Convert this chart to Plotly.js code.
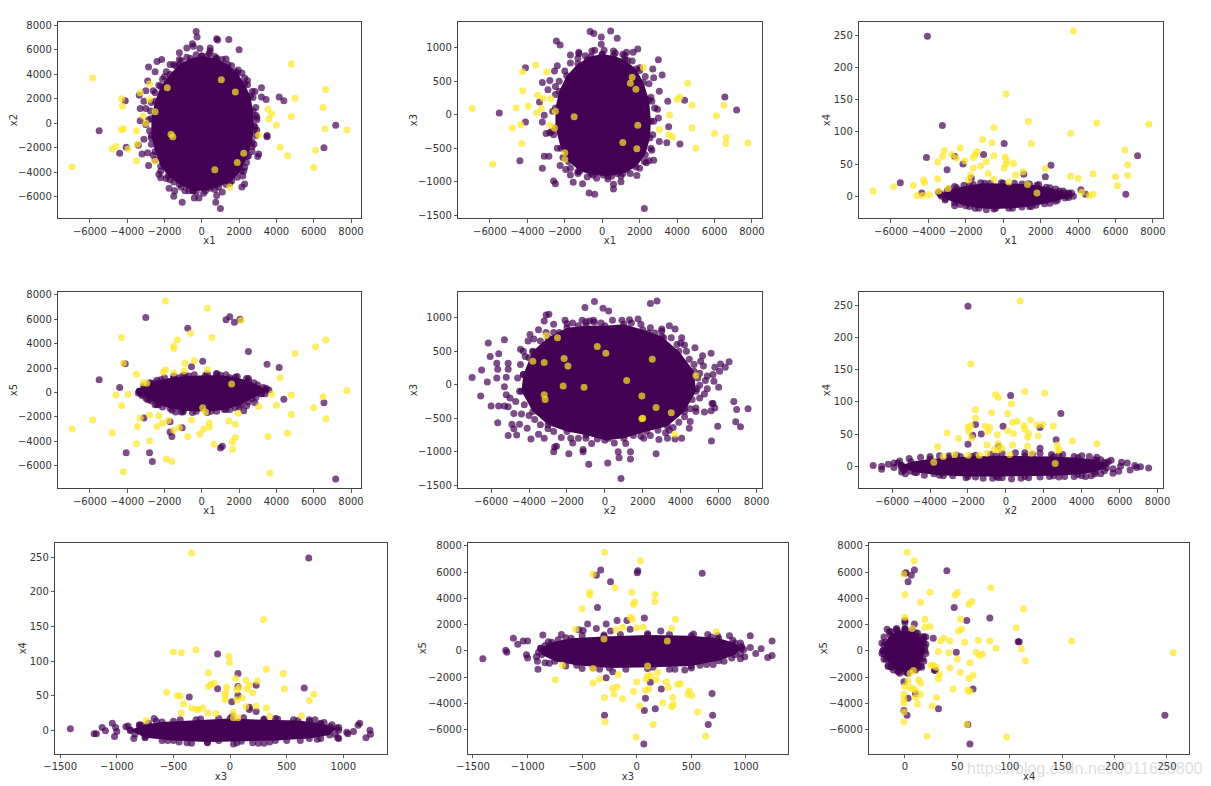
<!DOCTYPE html>
<html><head><meta charset="utf-8">
<script src="https://cdn.plot.ly/plotly-3.0.1.min.js"></script>
<style>html,body{margin:0;padding:0;background:#fff}
.g-xtitle,.g-x2title,.g-x3title,.g-x4title,.g-x5title,.g-x6title,.g-x7title,.g-x8title,.g-x9title{transform:translateY(-2px)}
.g-ytitle,.g-y2title,.g-y4title,.g-y5title{transform:translateX(5px)}
.g-y3title,.g-y6title,.g-y7title{transform:translateX(2px)}
.g-y8title,.g-y9title{transform:translateX(4px)}
</style></head>
<body><div id="chart" style="width:1211px;height:786px"></div>
<script>
const rangeX1=[-7690,8520], rangeX2=[-7730,8270], rangeX3=[-1543,1383], rangeX4=[-34,271], rangeX5=[-7830,8230];

const p1Yellow=[[-5850,3700],[-6950,-3550],[-4300,2000],[-4250,1400],[-3300,2500],[-2800,3200],[-2800,1950],[-2500,950],[-3150,600],[-3000,0],[-4300,-500],[-4200,-450],[-3500,-600],[-4800,-2100],[-4600,-1900],[-3950,-2100],[-3450,-1700],[-3500,-3050],[-2500,-3100],[-1550,-1100],[-1650,-900],[-1850,2900],[1050,3550],[1800,2550],[4800,4850],[5000,2050],[6650,2750],[6500,1300],[4800,550],[3550,1150],[3750,750],[3600,350],[4000,-150],[3050,-950],[6600,-450],[7780,-550],[4200,-1950],[4600,-2650],[6100,-2200],[6000,-3600],[1500,-5200],[700,-3800],[1900,-3200],[2250,-2450]];
const p1Purple=[[-5500,-600],[-4100,1850],[-4050,-1950],[-4400,-2450],[-3400,-1800],[-3200,-2500],[-2900,-2400],[-2850,-3450],[-2850,4600],[-2500,4200],[-2900,3450],[-2400,5050],[-2150,5200],[-2600,2650],[-3000,2650],[-3350,2300],[-3100,1800],[-3300,1200],[-3000,1200],[-3300,200],[-3000,-100],[-3100,-1300],[-2700,-1200],[-2300,-4150],[-2200,-4450],[-1700,-4600],[-1750,-5300],[-1450,-5500],[-1500,-5950],[-1050,-6450],[-900,-5500],[-450,-5500],[-400,-6100],[-150,-6100],[450,-5300],[800,-5900],[750,-6450],[1000,-6950],[1100,-5600],[2150,-5200],[2300,-4950],[2200,-4300],[2250,-3900],[2500,-2650],[3050,-2500],[3000,-2700],[2800,-1700],[3500,-1000],[3500,-1100],[2800,-550],[2950,-550],[2950,500],[2900,650],[3450,1950],[3200,2150],[2850,2600],[3200,2900],[2450,3150],[2150,4100],[1800,4200],[2000,6000],[1450,6850],[800,6900],[850,6800],[-300,7500],[-250,7050],[-500,6500],[-450,6300],[-1200,5750],[-800,6150],[-100,6100],[450,6150],[450,5900],[-1500,4800],[-1700,4800],[4150,2150],[4400,1850],[7180,-150],[6550,-2000],[1300,5250],[800,5300],[-1100,5100],[400,5700],[-2000,3800],[-1700,3500]];
const p1Core=[[0,5500],[800,5300],[1400,4800],[1900,4100],[2300,3200],[2600,2200],[2750,1000],[2800,-200],[2700,-1500],[2450,-2700],[2100,-3900],[1600,-4700],[900,-5200],[200,-5500],[-500,-5500],[-1200,-5000],[-1800,-4300],[-2200,-3500],[-2500,-2300],[-2700,-1000],[-2700,400],[-2500,1800],[-2200,3000],[-1700,4000],[-1200,4800],[-600,5300]];
const p1Rim=[[-2800,-600],[-2850,300],[-2750,1000],[-2700,1700],[-2500,2500],[-2300,3100],[-2100,3600],[-1900,4200],[-1400,4700],[-1200,5200],[-800,5400],[-300,5600],[300,5500],[700,5450],[1100,5200],[1600,4700],[1950,4350],[2300,3700],[2450,3500],[2700,2600],[2750,2100],[2900,1300],[2950,300],[2850,-300],[2900,-1000],[2700,-1900],[2700,-2300],[2400,-3200],[2300,-3600],[1900,-4400],[1500,-4900],[1300,-5000],[700,-5400],[100,-5700],[-300,-5600],[-700,-5500],[-1100,-5200],[-1500,-4800],[-1900,-4500],[-2200,-3900],[-2500,-3000],[-2600,-2600],[-2700,-1700]];

const p2Yellow=[[-6950,90],[-5850,-740],[-4800,-200],[-4600,100],[-3950,125],[-4350,-150],[-4300,-430],[-4250,640],[-3550,740],[-2950,640],[-4250,355],[-3450,290],[-3150,240],[-2750,240],[-3250,90],[-3500,30],[-2500,50],[-2800,-160],[-2550,-200],[-2000,-570],[-2000,-670],[-1500,-30],[1800,380],[1600,560],[1500,470],[2200,700],[3050,-220],[3600,-5],[4000,225],[4150,265],[4560,470],[4800,140],[6500,140],[6100,-15],[4800,-195],[3550,-300],[3750,-330],[6000,-280],[6620,-340],[6600,-430],[7780,-425],[5000,-500],[1850,-510],[1900,-160],[1100,-415]];
const p2Purple=[[-5500,25],[-4100,700],[-4100,-110],[-4400,-690],[-3200,-800],[-2600,-990],[-2500,-1030],[-3100,-620],[-2850,-620],[-3200,-110],[-3100,-10],[-3000,-280],[-2800,-270],[-2600,-300],[-3350,190],[-3200,480],[-2800,510],[-2900,370],[-2550,650],[-2400,730],[-2500,420],[-2450,1100],[-2250,1040],[-1700,890],[-1250,930],[-1250,910],[-800,820],[-550,950],[-650,1240],[-450,1210],[-50,1160],[-50,1050],[450,1250],[800,1140],[600,950],[1300,930],[1100,900],[1650,930],[1900,980],[1350,810],[2000,700],[2700,680],[3000,820],[2750,550],[3200,590],[3050,350],[2500,460],[2600,260],[3500,200],[4400,215],[2800,100],[2950,80],[6550,265],[7180,70],[3000,-50],[3550,-180],[3050,-400],[3450,-420],[4150,-440],[2650,-530],[2750,-680],[2500,-690],[2250,-700],[1850,-910],[1000,-1000],[600,-1040],[600,-1110],[-400,-1190],[-700,-1170],[-1050,-1030],[-1550,-1010],[-1700,-900],[-1950,-820],[-2250,-760],[-2000,-650],[2250,-1400],[500,-920],[50,-900],[-600,-880],[-1300,-850],[800,-880],[1300,-820]];
const p2Core=[[0,900],[600,880],[1200,820],[1800,680],[2200,480],[2500,220],[2600,-100],[2550,-350],[2300,-600],[1800,-780],[1100,-880],[300,-920],[-500,-900],[-1200,-840],[-1800,-700],[-2200,-500],[-2500,-200],[-2500,100],[-2300,350],[-1900,580],[-1300,760],[-600,870]];
const p2Rim=[[-2700,-250],[-2650,50],[-2500,300],[-2300,500],[-2000,650],[-1700,770],[-1300,840],[-900,880],[-400,960],[100,960],[700,920],[1200,880],[1600,800],[2000,660],[2300,570],[2650,200],[2750,-100],[2700,-300],[2600,-500],[2350,-720],[2000,-800],[1500,-880],[1000,-920],[300,-960],[-300,-950],[-800,-930],[-1300,-880],[-1700,-800],[-2100,-640],[-2400,-500]];

const p3Yellow=[[-6950,8],[-5850,15],[-4800,17],[-4600,1],[-4300,1],[-3950,2],[-4250,25],[-4200,21],[-3500,27],[-3500,53],[-3250,62],[-3150,71],[-2750,65],[-2500,59],[-2300,75],[-2050,55],[-1600,60],[-1500,65],[-1400,69],[-1100,88],[-600,83],[-500,107],[-500,63],[-1600,44],[-1200,47],[-900,54],[-1750,33],[-1850,25],[-800,35],[-500,26],[100,61],[150,159],[200,55],[150,50],[50,44],[550,51],[650,33],[1050,38],[1350,116],[1500,82],[2250,43],[3750,257],[3600,98],[3600,31],[4000,28],[4800,35],[5000,114],[6500,72],[6650,49],[6650,32],[6000,30],[6100,16],[7780,112],[4800,3],[4600,1],[4200,6],[1800,5],[1300,18],[300,22],[-3450,8],[-2950,12]];
const p3Purple=[[-4050,249],[-5500,21],[-3250,110],[-4100,60],[-3000,41],[-2600,62],[-2150,50],[-1700,28],[-1050,65],[50,82],[1100,34],[2250,30],[2550,48],[7180,63],[6550,3],[4150,10],[4400,3],[3200,8],[3500,5],[-4350,5],[-2600,-15],[1900,18],[1400,19],[3050,4]];
const p3Core=[[-3350,3],[-3000,8],[-2500,13],[-1800,17],[-1000,20],[0,20],[1000,19],[1800,17],[2500,13],[3000,8],[3450,3],[3300,-3],[2800,-8],[2200,-12],[1400,-16],[500,-19],[-500,-20],[-1300,-19],[-2000,-15],[-2600,-10],[-3100,-4]];
const p3Rim=[[-3450,6],[-3300,0],[-3100,-6],[-2900,11],[-2600,15],[-2300,-13],[-2100,17],[-1800,-16],[-1600,18],[-1500,-19],[-1200,21],[-900,-21],[-700,20],[-400,-19],[-100,21],[300,-19],[600,20],[1000,-17],[1300,19],[1500,-16],[1750,-14],[2300,14],[2500,-11],[2800,11],[2900,-6],[3300,5],[3500,-2],[3400,0],[3650,5],[3750,0]];

const p4Yellow=[[-1950,7500],[300,6900],[2100,5900],[-4300,4500],[-600,4850],[550,4500],[-1300,4300],[-1500,3800],[-1500,3600],[6650,4300],[6100,3750],[5000,3200],[-4200,2400],[-900,2400],[-400,2600],[-1950,1850],[-2050,1650],[-1500,1600],[-950,1750],[-3500,1500],[300,1850],[-3150,800],[-2950,750],[4200,1200],[-4600,-200],[-3950,-150],[3750,-150],[4800,-200],[6500,-350],[7780,150],[-4300,-1100],[4000,-1050],[3050,-1150],[6000,-1250],[6650,-2150],[4800,-1800],[-3300,-2100],[-5850,-2250],[-6950,-3000],[-4800,-3300],[-3450,-2800],[-2400,-2800],[-2100,-2500],[-2300,-1900],[-2800,-1850],[-1800,-2300],[-1500,-3100],[-1200,-2900],[-550,-2250],[-3500,-4200],[-2800,-3950],[-750,-3600],[-100,-3400],[100,-3000],[400,-2850],[400,-2500],[1450,-2350],[1800,-2600],[1950,-1700],[1800,-3700],[1650,-4050],[1650,-4650],[650,-4250],[3550,-3600],[4600,-3350],[3650,-6600],[-4200,-6500],[-1900,-5450],[-1600,-5650],[50,-1250],[200,-1600],[1600,700]];
const p4Purple=[[-3000,6150],[-750,5250],[1300,5950],[1500,6200],[1750,5750],[2050,6000],[2500,3350],[50,2550],[-550,2100],[-4100,2350],[3500,2300],[4150,2050],[-5500,1050],[-4400,400],[4400,-550],[6550,-850],[2850,-850],[2250,-1500],[7180,-7100],[-3100,-2100],[-1700,-2400],[-1700,-3250],[-1600,-3600],[-1050,-2900],[-4050,-4950],[-2800,-4950],[-2650,-5650],[1000,-4550],[1100,-4400],[2500,1150],[3450,350],[3000,100],[3200,-100],[-2500,800],[-3300,-50],[-3300,100],[-2900,-600],[-2500,-1000],[-1400,-1600],[-1100,-1600],[1200,-1400],[1800,-1250],[2400,-1100],[-1300,1200],[-900,1400],[800,1550],[1500,1200]];
const p4Core=[[-3350,100],[-3100,450],[-2700,750],[-2200,1050],[-1500,1250],[-700,1350],[200,1400],[1000,1400],[1800,1250],[2500,950],[3000,600],[3450,200],[3200,-100],[2700,-500],[2100,-1000],[1300,-1400],[500,-1550],[-300,-1550],[-1000,-1500],[-1700,-1300],[-2300,-1000],[-2800,-550],[-3200,-150]];
const p4Rim=[[-3400,-50],[-3200,-250],[-3000,-450],[-2700,-700],[-2400,-1000],[-2100,-1200],[-1600,-1450],[-1000,-1600],[-500,-1650],[300,-1650],[800,-1550],[1500,-1400],[2000,-1200],[2500,-800],[2900,-400],[3400,-100],[3600,200],[3300,400],[2800,800],[2400,1150],[1900,1300],[1300,1450],[800,1500],[300,1500],[-400,1450],[-1000,1400],[-1500,1350],[-2000,1200],[-2400,1000],[-2800,800],[-3100,550]];

const p5Yellow=[[-3100,735],[-2500,700],[-3800,350],[-3200,330],[-2150,390],[-1950,280],[-400,570],[50,470],[2500,380],[4800,135],[1150,60],[1950,-170],[-3200,-150],[-3150,-220],[2700,-340],[3500,-420],[2000,-500],[1950,-510],[3700,-740],[-1100,-40],[-2200,-20]];
const p5Purple=[[-7000,105],[-6500,220],[-6150,620],[-6050,420],[-6200,40],[-6550,-170],[-6000,-320],[-5650,-570],[-5600,-320],[-5700,100],[-5650,230],[-5700,320],[-5600,460],[-5300,670],[-5100,320],[-5100,230],[-5200,110],[-5300,-30],[-5200,-150],[-5000,-200],[-5300,-320],[-5100,-330],[-4900,-590],[-4800,-660],[-5100,-760],[-4650,-750],[-4800,-430],[-4400,-440],[-4500,-590],[-4100,-650],[-3900,-810],[-3500,-740],[-4450,530],[-4200,420],[-4050,650],[-3950,750],[-3800,490],[-3500,820],[-3200,950],[-3100,1040],[-2950,1050],[-2700,780],[-2000,910],[-1700,920],[-1000,940],[-800,950],[-550,930],[-1050,1150],[-550,1240],[-100,1140],[200,1100],[2400,1210],[2750,1250],[1300,970],[1750,980],[2400,850],[3000,830],[3400,880],[3700,830],[4050,700],[4000,620],[4750,550],[4200,590],[5150,430],[5600,470],[5050,350],[5800,260],[6100,310],[6050,200],[6550,340],[6350,260],[5200,280],[5000,170],[5400,130],[5700,150],[5300,60],[5750,50],[6000,-40],[5400,-60],[5000,-10],[5250,-140],[5000,-200],[5700,-280],[5650,-280],[5800,-350],[5600,-390],[5250,-410],[4800,-350],[4800,-400],[6800,-250],[6950,-370],[7550,-360],[6900,-555],[7150,-630],[5950,-620],[5620,-840],[4500,-550],[4450,-650],[4050,-800],[3700,-810],[3400,-680],[2700,-1030],[2850,-820],[1350,-1000],[1350,-1110],[750,-1090],[850,-1400],[700,-1000],[150,-1170],[-850,-1190],[-1150,-1000],[-1150,-970],[-1900,-1030],[-2700,-1000],[-2650,-930],[-2550,-920],[-1700,-870],[-700,-880],[2050,-800],[3300,-800],[4200,-350],[3000,800],[600,800],[-3200,-800]];
const p5Core=[[-4300,150],[-3800,500],[-3000,700],[-2000,850],[-1000,880],[0,880],[1000,900],[2000,820],[3000,720],[3900,500],[4700,200],[4800,-100],[4200,-400],[3300,-620],[2200,-700],[1000,-800],[0,-830],[-1000,-750],[-2000,-700],[-3000,-600],[-3800,-400],[-4400,-100]];
const p5Rim=[[-4500,-100],[-4600,100],[-4450,300],[-4300,500],[-4000,400],[-3750,680],[-3400,650],[-3100,780],[-2700,900],[-2400,780],[-2100,960],[-1400,880],[-1200,960],[-600,960],[-200,920],[400,960],[900,960],[1400,920],[1900,900],[2300,770],[2650,770],[3100,700],[3500,700],[3800,600],[4300,500],[4450,380],[4700,300],[4900,100],[4850,-60],[4600,-220],[4500,-360],[4200,-480],[3900,-560],[3600,-640],[3200,-720],[2800,-680],[2400,-760],[1900,-770],[1500,-760],[1100,-880],[500,-870],[200,-800],[-400,-810],[-1000,-800],[-1400,-800],[-1800,-800],[-2300,-790],[-2700,-700],[-3000,-660],[-3400,-600],[-3700,-520],[-4000,-460],[-4250,-300],[-4700,-250]];

const p6Yellow=[[750,257],[-1850,159],[-550,111],[-400,107],[1000,116],[2050,114],[300,97],[-1600,88],[-750,83],[100,82],[-1600,75],[350,68],[600,70],[1300,72],[-2000,61],[-1850,63],[-1100,62],[-850,60],[-950,54],[-1950,54],[100,55],[400,51],[950,63],[1000,58],[1200,51],[1650,64],[1950,65],[2500,62],[1700,47],[1150,45],[-450,49],[-3100,52],[-2500,43],[-1800,44],[-1000,33],[-3600,30],[-400,35],[350,33],[1150,31],[2700,33],[2800,25],[2750,25],[3500,39],[4800,35],[-400,25],[-600,26],[-200,28],[-1000,20],[-2000,17],[-2700,18],[-3300,15],[1350,20],[-1400,17],[200,18],[-3800,6],[2600,4]];
const p6Purple=[[-2000,249],[250,110],[2900,82],[-1600,65],[-150,62],[1800,60],[-1750,48],[-1300,50],[2650,41],[-2000,34],[-400,31],[1800,28],[-7000,1],[-6550,-5],[-6550,0],[-6200,3],[-5900,5],[-5900,-2],[-5600,8],[-5500,-2],[-5100,12],[5550,9],[5650,-4],[5650,-11],[6100,6],[6050,0],[6400,5],[6550,-6],[6800,1],[6900,-2],[7100,-1],[7530,-3],[5950,-8],[4800,8],[-2600,17],[-3000,16],[-3500,16],[-4000,15],[-4500,14],[-4800,-10],[-3800,-12],[-3300,-15],[-2100,-18],[-1200,-19],[-700,-19],[-200,-18],[800,-19],[1800,-17],[2300,-16],[3100,-16],[4000,-15],[4500,-15],[5000,-12],[1000,21],[500,21],[-200,20],[1800,20],[2400,18],[3000,18],[4000,16],[4400,15],[4800,14],[5200,6],[-5500,-9],[-5300,-12]];
const p6Core=[[-5500,1],[-5000,7],[-4000,11],[-3000,13],[-1800,15],[-500,16],[1000,16],[2500,15],[3800,13],[4700,10],[5300,4],[5300,-3],[4700,-9],[3800,-13],[2500,-15],[1000,-16],[-500,-16],[-2000,-16],[-3500,-14],[-4700,-10],[-5300,-5]];
const p6Rim=[[-5700,5],[-5400,-6],[-5000,-8],[-4300,-14],[-2800,-15],[-1600,-17],[-400,-18],[300,-20],[1200,-18],[2800,-17],[3600,-16],[4200,-16],[4700,-12],[5200,-7],[5400,7],[5000,10],[3600,15],[2800,17],[1400,18],[-800,18],[-1600,17],[-2400,15]];

const p7Yellow=[[-340,256],[295,160],[-500,113],[-430,112],[-300,116],[-10,107],[-5,98],[320,88],[470,82],[-190,83],[50,75],[140,72],[240,71],[-140,68],[-170,66],[-190,63],[-30,62],[170,65],[150,60],[60,58],[80,62],[480,60],[740,52],[700,43],[-560,55],[-465,50],[-440,49],[200,54],[-40,54],[-45,50],[-45,44],[60,44],[110,47],[-410,38],[-340,32],[-300,30],[-280,30],[-240,32],[140,34],[230,35],[320,32],[-430,25],[-195,25],[-125,24],[30,26],[630,21],[-740,14],[350,20],[30,18],[70,18]];
const p7Purple=[[-1410,2],[-1200,-5],[-1180,-5],[-1130,4],[-1100,-1],[-1040,10],[-1020,-9],[-1010,4],[-1000,-2],[-920,5],[-900,6],[-850,-12],[1240,-6],[1235,0],[1200,-11],[1145,10],[1130,7],[1090,-2],[1040,-5],[1030,-3],[960,-12],[950,-11],[960,0],[880,5],[800,9],[750,15],[695,249],[655,61],[-110,110],[70,82],[230,65],[70,63],[-110,60],[-360,48],[70,50],[15,41],[170,33],[170,30],[230,27],[20,20],[-670,17],[-700,5],[-800,7],[-750,-10],[-600,-15],[-450,-17],[-340,-19],[-100,-15],[30,-20],[200,-18],[300,-19],[500,-15],[800,-12],[300,16],[400,17],[700,13],[-500,13]];
const p7Core=[[-880,0],[-780,7],[-600,12],[-300,15],[0,17],[300,15],[600,14],[800,10],[940,3],[880,-7],[700,-12],[400,-15],[100,-16],[-200,-17],[-500,-15],[-750,-11]];
const p7Rim=[[-840,-6],[-800,8],[-720,10],[-650,13],[-550,-15],[-440,15],[-380,-18],[-200,-18],[-260,16],[-100,17],[60,-18],[120,18],[250,-19],[350,-17],[420,16],[560,15],[620,-15],[700,15],[770,-13],[830,11],[900,8],[930,-6],[960,4]];

const p8Yellow=[[-295,7500],[35,6850],[-400,5850],[-200,4800],[-45,4450],[-430,4450],[-430,4250],[170,4280],[165,3750],[-20,3700],[-30,3550],[-500,3200],[-60,2550],[-40,2400],[355,2400],[-560,1650],[-130,1800],[0,1750],[60,1800],[320,1700],[730,1450],[-190,1600],[-745,-2200],[-680,-1100],[-400,-2450],[-340,-2150],[-170,-1800],[-220,-2850],[-180,-2750],[-210,-3300],[-295,-3550],[-130,-3650],[-30,-3100],[0,-2350],[100,-1900],[85,-2150],[130,-1900],[190,-1650],[180,-2200],[270,-2350],[290,-2800],[80,-3000],[110,-2900],[375,-2550],[400,-2500],[480,-3050],[470,-3300],[505,-3400],[330,-3550],[320,-4250],[335,-4100],[240,-3950],[25,-4200],[150,-5600],[560,-4650],[630,-6500],[-5,-6550],[-290,-5400],[100,-1150],[-400,-1350],[-300,900],[280,750]];
const p8Purple=[[-1410,-600],[-1130,950],[-1090,500],[-1040,750],[-1000,750],[-1200,50],[-1190,-100],[-1010,-300],[-1000,-550],[-920,-450],[-910,-800],[-905,-1400],[-860,1200],[-840,-900],[1240,750],[1240,-350],[1200,-500],[1140,150],[1090,-200],[1040,1150],[1040,250],[990,-450],[950,-600],[850,1150],[740,1150],[650,1250],[600,5900],[10,6100],[5,5950],[-330,6150],[-370,5750],[-240,5250],[-360,3300],[-180,2300],[70,2500],[-450,2050],[-280,2050],[-90,2300],[-530,1600],[-490,1550],[-370,1700],[-240,1500],[-60,1650],[220,1500],[-280,-2050],[125,-2400],[225,-2900],[690,-3250],[80,-3600],[70,-4550],[170,-4400],[-295,-4900],[695,-4900],[655,-5600],[65,-7100],[-220,-1600],[350,-1400],[440,-1450],[-500,-1350],[-340,-1400],[-690,1250],[-810,700],[960,350],[700,-1050],[580,-1100]];
const p8Core=[[-880,200],[-780,650],[-600,950],[-300,1100],[100,1200],[500,1150],[750,950],[900,600],[960,200],[900,-300],[750,-750],[500,-1150],[150,-1250],[-250,-1300],[-550,-1100],[-750,-800],[-870,-300]];
const p8Rim=[[-900,-100],[-840,400],[-720,850],[-650,1000],[-500,1150],[-300,1200],[-150,1250],[100,1300],[300,1250],[520,1280],[680,1050],[880,800],[950,600],[980,100],[950,-200],[870,-550],[800,-800],[640,-1050],[500,-1300],[300,-1400],[100,-1350],[-100,-1400],[-400,-1300],[-650,-1150],[-800,-950]];

const p9Yellow=[[2,7500],[9,6850],[-1,5850],[0,4280],[24,4450],[15,3700],[50,4450],[48,4250],[64,3750],[61,3550],[82,4800],[113,3200],[19,2400],[53,2400],[0,2550],[19,1800],[24,1850],[54,1650],[51,1500],[106,1750],[7,1700],[37,950],[34,750],[43,750],[57,650],[70,800],[81,750],[87,200],[159,750],[111,150],[256,-150],[115,-750],[32,-50],[42,-150],[68,-100],[71,-350],[74,-250],[50,-650],[62,-900],[25,-1100],[27,-1100],[30,-1250],[43,-1300],[33,-1800],[53,-1650],[65,-1850],[61,-2100],[32,-2150],[13,-2200],[15,-2450],[46,-2900],[60,-3000],[62,-3100],[5,-2800],[8,-2900],[10,-3000],[15,-3300],[-1,-3300],[-1,-3700],[-1,-3950],[10,-3550],[30,-3550],[12,-4050],[26,-4200],[-1,-4650],[-1,-5400],[59,-5600],[21,-6500],[97,-6550],[0,-2700],[3,-2300],[5,-1700],[8,-1500]];
const p9Purple=[[1,5950],[0,5900],[9,6150],[6,5750],[3,5250],[40,6100],[47,3300],[59,2300],[81,2500],[9,2050],[0,2300],[0,2150],[109,700],[108,700],[49,-100],[29,-1500],[28,-1450],[65,-2900],[10,-3250],[3,-3600],[32,-4400],[-1,-4550],[2,-4900],[60,-5600],[62,-7100],[248,-4900],[-1,-2350],[18,1100],[20,1050],[27,950],[20,500],[-17,1650],[-15,1450],[-20,400],[-20,-250],[-16,-1200],[-13,-1250],[16,-1250],[12,-1300],[-6,-1600],[3,-1700],[10,1350],[-8,1600],[0,1700],[18,1000]];
const p9Core=[[-21,0],[-19,650],[-14,1200],[-7,1500],[0,1550],[7,1450],[14,1100],[18,600],[19,0],[17,-600],[13,-1100],[7,-1450],[0,-1600],[-7,-1550],[-13,-1200],[-18,-650]];
const p9Rim=[[-22,600],[-20,1050],[-13,1450],[-8,1700],[0,1650],[7,1600],[12,1350],[17,800],[19,300],[20,-200],[18,-800],[15,-1150],[10,-1450],[2,-1650],[-5,-1700],[-11,-1450],[-16,-1100],[-20,-650],[-22,-200]];

const W=1211,H=786,PURPLE='#440154',YELLOW='#fde725',INK='#333333',MSIZE=7;
const tick5=[-6000,-4000,-2000,0,2000,4000,6000,8000], tick3=[-1500,-1000,-500,0,500,1000], tick4=[0,50,100,150,200,250];
const axes={x1:{r:rangeX1,t:tick5},x2:{r:rangeX2,t:tick5},x3:{r:rangeX3,t:tick3},x4:{r:rangeX4,t:tick4},x5:{r:rangeX5,t:tick5}};
const panels=[
 {xn:'x1',yn:'x2',box:[58.3,360.7,22,218],core:p1Core,rim:p1Rim,purple:p1Purple,yellow:p1Yellow},
 {xn:'x1',yn:'x3',box:[458.3,761.7,22,218],core:p2Core,rim:p2Rim,purple:p2Purple,yellow:p2Yellow},
 {xn:'x1',yn:'x4',box:[859.3,1162.7,22,218],core:p3Core,rim:p3Rim,purple:p3Purple,yellow:p3Yellow},
 {xn:'x1',yn:'x5',box:[58.3,360.7,292,488],core:p4Core,rim:p4Rim,purple:p4Purple,yellow:p4Yellow},
 {xn:'x2',yn:'x3',box:[458.3,761.7,292,488],core:p5Core,rim:p5Rim,purple:p5Purple,yellow:p5Yellow},
 {xn:'x2',yn:'x4',box:[859.3,1162.7,292,488],core:p6Core,rim:p6Rim,purple:p6Purple,yellow:p6Yellow},
 {xn:'x3',yn:'x4',box:[55.3,386.7,542.7,753.7],core:p7Core,rim:p7Rim,purple:p7Purple,yellow:p7Yellow},
 {xn:'x3',yn:'x5',box:[468.3,787.7,542.7,753.7],core:p8Core,rim:p8Rim,purple:p8Purple,yellow:p8Yellow},
 {xn:'x4',yn:'x5',box:[869.3,1189,542.7,753.7],core:p9Core,rim:p9Rim,purple:p9Purple,yellow:p9Yellow}
];
const FONT={family:'"DejaVu Sans", sans-serif',size:10,color:INK};
const layout={width:W,height:H,margin:{l:0,r:0,t:0,b:0},paper_bgcolor:'#fff',plot_bgcolor:'#fff',showlegend:false,font:FONT,hovermode:false,
 annotations:[{xref:'paper',yref:'paper',x:1085/W,y:1-768/H,xanchor:'center',yanchor:'middle',text:'https://blog.csdn.net/u011698800',showarrow:false,font:{family:'"Liberation Sans", sans-serif',size:16,color:'rgba(170,170,170,0.4)'}}]};
const traces=[];
panels.forEach((p,i)=>{
 const n=i+1, xa='x'+n, ya='y'+n;
 const base={ticks:'outside',ticklen:3.5,tickwidth:0.8,tickcolor:INK,showgrid:false,zeroline:false,showline:true,linecolor:'#444',linewidth:1,mirror:true,tickfont:FONT};
 layout['xaxis'+n]=Object.assign({},base,{domain:[p.box[0]/W,p.box[1]/W],anchor:ya,range:axes[p.xn].r,tickvals:axes[p.xn].t,title:{text:p.xn,font:FONT,standoff:3}});
 layout['yaxis'+n]=Object.assign({},base,{domain:[1-p.box[3]/H,1-p.box[2]/H],anchor:xa,range:axes[p.yn].r,tickvals:axes[p.yn].t,title:{text:p.yn,font:FONT,standoff:3}});
 const closed=p.core.concat([p.core[0]]);
 traces.push({type:'scatter',mode:'lines+markers',fill:'toself',fillcolor:PURPLE,xaxis:xa,yaxis:ya,x:closed.map(d=>d[0]),y:closed.map(d=>d[1]),line:{width:0,color:PURPLE},marker:{size:MSIZE,color:PURPLE,opacity:0.7,line:{width:0}}});
 const marks=p.rim.concat(p.purple);
 traces.push({type:'scatter',mode:'markers',xaxis:xa,yaxis:ya,x:marks.map(d=>d[0]),y:marks.map(d=>d[1]),marker:{size:MSIZE,color:PURPLE,opacity:0.7,line:{width:0}}});
 traces.push({type:'scatter',mode:'markers',xaxis:xa,yaxis:ya,x:p.yellow.map(d=>d[0]),y:p.yellow.map(d=>d[1]),marker:{size:MSIZE,color:YELLOW,opacity:0.7,line:{width:0}}});
});
Plotly.newPlot('chart',traces,layout,{displayModeBar:false,staticPlot:true});
</script></body></html>
